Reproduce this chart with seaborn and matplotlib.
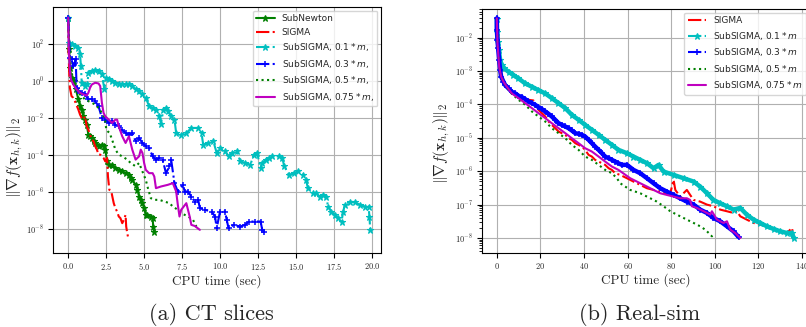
import numpy as np
import pandas as pd
import matplotlib
matplotlib.use("Agg")
import matplotlib.pyplot as plt
import seaborn as sns
from matplotlib.font_manager import FontProperties

# ---------------- (a) CT slices : CPU time (sec) and log10 ||grad|| ----------------
ct_newton_t = [0.00, 0.07, 0.11, 0.22, 0.40, 0.51, 0.67, 0.78, 0.89, 1.00, 1.11, 1.22, 1.33, 1.44,
               1.56, 1.67, 1.78, 1.89, 2.00, 2.22, 2.33, 2.44, 2.56, 2.67, 2.89, 3.11, 3.33, 3.56,
               3.78, 4.00, 4.11, 4.22, 4.44, 4.56, 4.67, 4.78, 4.89, 5.00, 5.11, 5.22, 5.44, 5.56,
               5.60, 5.67]
ct_newton_lg = [3.37, 1.69, 0.70, 0.16, -0.02, -0.47, -1.01, -1.38, -1.56, -1.92, -2.10, -2.37, -2.91,
                -3.00, -3.09, -3.27, -3.36, -3.45, -3.54, -3.45, -3.54, -3.72, -4.35, -4.53, -4.53,
                -4.71, -4.81, -4.90, -4.99, -5.08, -5.26, -5.35, -5.62, -5.89, -6.25, -6.43, -6.61,
                -6.88, -7.24, -7.24, -7.33, -7.42, -7.87, -8.14]

ct_sigma_t = [0.00, 0.02, 0.07, 0.11, 0.22, 0.33, 0.44, 0.67, 0.78, 0.89, 1.00, 1.11, 1.22, 1.33,
              1.44, 1.56, 1.67, 1.78, 1.89, 2.00, 2.11, 2.22, 2.33, 2.44, 2.56, 2.62, 2.71, 2.84,
              2.93, 3.00, 3.11, 3.22, 3.33, 3.44, 3.56, 3.67, 3.78, 3.82, 3.89, 3.96]
ct_sigma_lg = [3.32, 1.69, 0.43, -0.38, -0.83, -0.92, -1.10, -1.56, -1.83, -2.01, -2.10, -1.92, -2.46,
               -2.64, -2.91, -3.18, -3.27, -3.54, -3.72, -3.99, -3.99, -4.08, -4.17, -4.35, -4.17,
               -5.17, -5.89, -5.98, -6.34, -6.61, -6.88, -7.06, -7.33, -7.42, -7.69, -7.51, -7.24,
               -7.87, -8.23, -8.51]

ct_s01_t = [0.00, 0.04, 0.22, 0.44, 0.67, 0.78, 0.84, 0.89, 1.11, 1.27, 1.33, 1.56, 1.78, 2.00,
            2.22, 2.38, 2.51, 2.67, 2.89, 3.11, 3.33, 3.56, 3.78, 4.00, 4.22, 4.44, 4.67, 4.89,
            5.11, 5.33, 5.56, 5.78, 6.00, 6.11, 6.27, 6.44, 6.56, 6.78, 7.00, 7.11, 7.44, 7.78,
            8.11, 8.56, 8.78, 8.89, 9.22, 9.56, 9.78, 10.00, 10.33, 10.56, 10.78, 11.11, 11.33,
            11.67, 12.00, 12.22, 12.44, 12.67, 12.78, 13.00, 13.22, 13.44, 13.89, 14.11, 14.22,
            14.56, 14.89, 15.11, 15.44, 15.67, 15.78, 16.11, 16.33, 16.56, 16.78, 17.00, 17.11,
            17.33, 17.56, 17.78, 18.00, 18.11, 18.22, 18.56, 18.89, 19.22, 19.56, 19.78, 19.84,
            19.89]
ct_s01_lg = [3.37, 2.05, 1.96, 1.87, 1.78, 1.42, 0.79, -0.11, -0.26, -0.20, 0.43, 0.52, 0.56, 0.52,
             0.34, -0.44, 0.16, 0.07, -0.02, -0.11, -0.15, -0.20, -0.20, -0.20, -0.29, -0.47, -0.56,
             -0.74, -0.92, -1.38, -1.47, -1.56, -1.92, -2.31, -1.56, -1.47, -1.65, -1.92, -2.10,
             -2.82, -2.91, -2.82, -2.55, -2.55, -2.82, -3.45, -3.36, -3.27, -3.90, -3.63, -3.81,
             -4.08, -3.90, -3.81, -4.35, -4.44, -4.53, -3.99, -3.90, -4.71, -4.44, -4.26, -4.17,
             -4.08, -4.08, -4.17, -4.62, -5.08, -4.99, -4.90, -5.08, -5.35, -5.80, -6.07, -6.07,
             -6.25, -6.16, -6.25, -6.79, -7.06, -7.24, -7.42, -7.60, -7.06, -6.70, -6.52, -6.57,
             -6.70, -6.79, -6.79, -7.33, -8.05]

ct_s03_t = [0.00, 0.11, 0.22, 0.33, 0.44, 0.49, 0.56, 0.67, 0.89, 1.11, 1.33, 1.56, 1.78, 2.00,
            2.22, 2.44, 2.67, 2.89, 3.11, 3.33, 3.56, 3.78, 4.00, 4.22, 4.44, 4.67, 4.89, 5.11,
            5.33, 5.56, 5.78, 6.00, 6.22, 6.44, 6.67, 6.78, 7.00, 7.22, 7.56, 7.67, 7.89, 8.11,
            8.33, 8.56, 8.67, 9.00, 9.44, 9.67, 9.78, 10.00, 10.33, 10.44, 10.56, 10.89, 11.33,
            11.67, 11.89, 12.33, 12.67, 12.78, 12.89]
ct_s03_lg = [3.41, 1.24, 1.15, 0.79, 0.97, 1.15, -0.38, -0.56, -0.65, -0.74, -1.01, -1.01, -1.10,
             -1.38, -2.01, -2.10, -2.28, -2.19, -2.37, -2.46, -2.64, -2.82, -2.91, -2.82, -3.27,
             -3.09, -3.36, -3.54, -3.63, -4.08, -4.26, -4.17, -4.26, -4.99, -4.62, -4.26, -5.53,
             -5.98, -5.62, -5.98, -5.98, -6.25, -6.52, -6.43, -6.88, -6.97, -7.06, -7.33, -7.96,
             -7.06, -7.06, -7.51, -7.96, -7.78, -7.87, -7.78, -7.60, -7.60, -7.60, -8.05, -8.14]

ct_s05_t = [0.00, 0.11, 0.22, 0.33, 0.56, 0.89, 1.11, 1.33, 1.56, 1.78, 2.00, 2.22, 2.38, 2.44,
            2.51, 2.60, 2.73, 2.89, 3.11, 3.33, 3.56, 3.89, 4.11, 4.44, 4.67, 4.89, 5.11, 5.22,
            5.44, 5.67, 6.00, 6.33, 6.67, 6.89, 7.22, 7.44, 7.67, 7.89, 8.22, 8.33, 8.44, 8.56]
ct_s05_lg = [3.37, 1.15, 0.52, -0.02, -0.56, -0.83, -1.01, -1.10, -1.19, -1.29, -1.47, -1.74, -2.01,
             -2.19, -2.64, -2.73, -2.82, -3.18, -3.72, -3.99, -4.08, -4.26, -4.44, -4.62, -4.44,
             -4.90, -5.35, -5.71, -6.34, -6.43, -6.43, -6.52, -6.61, -6.79, -6.97, -7.15, -7.24,
             -7.33, -7.51, -7.69, -7.87, -7.96]

ct_s075_t = [0.00, 0.04, 0.11, 0.18, 0.33, 0.56, 0.78, 1.00, 1.22, 1.33, 1.44, 1.56, 1.78, 2.00,
             2.11, 2.22, 2.33, 2.44, 2.67, 2.89, 3.11, 3.22, 3.33, 3.56, 3.78, 4.00, 4.22, 4.44,
             4.67, 4.78, 4.89, 5.00, 5.11, 5.33, 5.56, 5.67, 5.78, 6.11, 6.56, 6.89, 7.11, 7.22,
             7.33, 7.44, 7.78, 8.00, 8.11, 8.33, 8.67]
ct_s075_lg = [3.41, 1.69, 0.61, 0.07, -0.20, -0.47, -0.65, -0.74, -0.80, -0.65, -0.38, -0.20, -0.11,
              -0.15, -0.29, -1.19, -1.74, -1.92, -2.10, -2.28, -2.10, -2.10, -2.46, -3.00, -3.36,
              -3.00, -3.72, -4.26, -4.08, -3.72, -3.90, -4.44, -4.81, -4.99, -4.99, -5.17, -5.80,
              -5.71, -5.62, -5.53, -5.98, -6.70, -7.33, -6.97, -6.61, -7.33, -7.78, -7.84, -8.05]

# ---------------- (b) Real-sim ----------------
rs_sigma_t = [0.0, 0.31, 1.07, 1.99, 3.06, 4.59, 6.88, 8.41, 11.5, 14.5, 16.8, 17.6, 19.1, 20.7,
              22.2, 23.7, 25.2, 26.8, 28.3, 29.8, 31.4, 32.9, 34.4, 36.0, 37.5, 39.0, 40.5, 42.1,
              43.6, 45.1, 46.7, 48.2, 49.7, 51.3, 52.8, 54.3, 56.6, 59.7, 62.7, 65.8, 68.9, 71.9,
              76.5, 79.6, 81.1, 81.9, 84.1, 87.2, 88.7, 90.3, 93.3, 96.4, 99.4, 102.5, 105.6,
              108.6, 110.2, 111.7, 114.7, 117.8, 120.9, 123.9, 127.0, 130.0, 133.1, 135.4, 136.2,
              136.9]
rs_sigma_lg = [-1.42, -2.17, -2.87, -3.17, -3.32, -3.49, -3.65, -3.71, -3.78, -3.86, -3.88, -4.01,
               -4.16, -4.26, -4.36, -4.51, -4.61, -4.71, -4.81, -4.86, -4.91, -5.01, -5.06, -5.16,
               -5.21, -5.26, -5.36, -5.51, -5.56, -5.66, -5.71, -5.76, -5.81, -5.91, -5.96, -6.06,
               -6.11, -6.21, -6.31, -6.41, -6.51, -6.56, -6.66, -6.66, -6.26, -6.56, -6.76, -6.56,
               -6.71, -6.86, -6.91, -7.00, -7.05, -7.15, -7.20, -7.25, -7.20, -7.35, -7.45, -7.55,
               -7.60, -7.65, -7.75, -7.80, -7.85, -7.70, -7.95, -8.05]

rs_s01_t = [0.0, 0.15, 0.46, 0.92, 1.53, 2.30, 3.37, 5.36, 7.65, 9.94, 13.0, 16.1, 19.1, 22.2,
            25.2, 28.3, 31.4, 34.4, 37.5, 40.5, 43.6, 46.7, 49.7, 52.8, 55.8, 59.7, 62.7, 65.8,
            68.9, 71.9, 74.2, 76.5, 81.1, 85.7, 90.3, 93.3, 96.4, 99.4, 102.5, 105.6, 108.6,
            111.7, 114.7, 117.8, 120.9, 123.9, 127.0, 130.0, 133.1, 135.4, 136.2]
rs_s01_lg = [-1.44, -1.82, -2.12, -2.37, -2.67, -2.82, -2.92, -3.02, -3.12, -3.22, -3.37, -3.47,
             -3.57, -3.67, -3.81, -3.96, -4.11, -4.31, -4.46, -4.61, -4.76, -4.91, -5.06, -5.21,
             -5.36, -5.46, -5.56, -5.66, -5.76, -5.91, -5.81, -6.01, -6.11, -6.21, -6.31, -6.46,
             -6.66, -6.86, -6.96, -7.05, -7.15, -7.10, -7.30, -7.45, -7.55, -7.65, -7.73, -7.80,
             -7.85, -7.85, -8.00]

rs_s03_t = [0.0, 0.0, 0.31, 0.61, 1.07, 1.53, 1.99, 3.06, 3.82, 5.36, 6.88, 8.41, 9.94, 11.5, 13.0,
            14.5, 16.1, 17.6, 19.1, 20.7, 22.2, 23.7, 25.2, 26.8, 28.3, 29.8, 31.4, 32.9, 34.4,
            36.0, 37.5, 39.0, 40.5, 42.1, 43.6, 45.1, 46.7, 48.2, 49.7, 51.3, 52.8, 54.3, 55.8,
            57.4, 59.7, 62.7, 65.8, 68.9, 71.9, 75.0, 78.0, 81.1, 84.1, 87.2, 90.3, 93.3, 96.4,
            99.4, 102.5, 105.6, 108.6, 110.9]
rs_s03_lg = [-1.42, -1.77, -2.07, -2.32, -2.67, -2.97, -3.17, -3.32, -3.42, -3.52, -3.62, -3.67,
             -3.74, -3.78, -3.84, -3.91, -3.96, -4.01, -4.08, -4.14, -4.21, -4.28, -4.36, -4.46,
             -4.56, -4.61, -4.66, -4.71, -4.78, -4.86, -4.88, -4.91, -4.96, -5.06, -5.16, -5.26,
             -5.36, -5.46, -5.56, -5.61, -5.66, -5.71, -5.76, -5.81, -5.81, -5.96, -6.06, -6.21,
             -6.36, -6.51, -6.61, -6.71, -6.81, -6.91, -7.00, -7.15, -7.25, -7.40, -7.50, -7.65,
             -7.80, -7.97]

rs_s05_t = [0.0, 0.31, 1.07, 1.99, 3.06, 4.59, 6.88, 9.94, 13.0, 16.1, 19.1, 22.2, 25.2, 28.3,
            31.4, 34.4, 37.5, 40.5, 43.6, 46.7, 49.7, 52.8, 55.1, 56.6, 61.2, 65.8, 70.4, 73.4,
            76.5, 79.6, 82.6, 87.2, 90.3, 93.3, 95.6, 97.2, 98.7, 99.4]
rs_s05_lg = [-1.42, -2.17, -2.87, -3.17, -3.32, -3.49, -3.68, -3.86, -4.01, -4.21, -4.36, -4.51,
             -4.71, -4.86, -5.01, -5.21, -5.36, -5.56, -5.66, -5.81, -5.96, -6.06, -6.21, -6.36,
             -6.56, -6.66, -6.81, -6.91, -7.05, -7.20, -7.30, -7.45, -7.55, -7.65, -7.75, -7.85,
             -7.95, -7.90]

rs_s075_t = [0.0, 0.31, 1.07, 1.99, 3.06, 4.59, 6.88, 9.94, 13.0, 16.1, 19.1, 22.2, 25.2, 28.3,
             31.4, 34.4, 37.5, 40.5, 43.6, 46.7, 49.7, 52.8, 55.8, 61.2, 65.8, 68.9, 71.9, 75.0,
             78.0, 81.1, 84.1, 87.2, 88.7, 89.5, 91.8, 94.9, 97.9, 98.7, 101.0, 104.0, 105.6,
             107.1, 109.4, 111.7]
rs_s075_lg = [-1.42, -2.17, -2.87, -3.17, -3.32, -3.47, -3.67, -3.81, -3.96, -4.11, -4.26, -4.41,
              -4.56, -4.71, -4.86, -5.01, -5.16, -5.31, -5.41, -5.56, -5.71, -5.86, -5.96, -6.21,
              -6.36, -6.46, -6.56, -6.66, -6.71, -6.76, -6.81, -6.81, -6.86, -7.05, -7.10, -7.20,
              -7.30, -7.20, -7.45, -7.55, -7.50, -7.75, -7.85, -8.00]

labels_a = ["SubNewton", "SIGMA", "SubSIGMA, $0.1*m$,", "SubSIGMA, $0.3*m$,",
            "SubSIGMA, $0.5*m$,", "SubSIGMA, $0.75*m$,"]
labels_b = ["SIGMA", "SubSIGMA, $0.1*m$", "SubSIGMA, $0.3*m$",
            "SubSIGMA, $0.5*m$", "SubSIGMA, $0.75*m$"]
xticks_a = [0.0, 2.5, 5.0, 7.5, 10.0, 12.5, 15.0, 17.5, 20.0]
xticks_b = [0, 20, 40, 60, 80, 100, 120, 140]
yticks_a = [1e-8, 1e-6, 1e-4, 1e-2, 1e0, 1e2]
yticks_b = [1e-8, 1e-7, 1e-6, 1e-5, 1e-4, 1e-3, 1e-2]
captions = ["(a) CT slices", "(b) Real-sim"]

# classic matplotlib single-letter colours
C_G = (0.0, 0.5, 0.0)
C_R = (1.0, 0.0, 0.0)
C_C = (0.0, 0.75, 0.75)
C_B = (0.0, 0.0, 1.0)
C_M = (0.75, 0.0, 0.75)

# ---------------- style ----------------
sns.set_theme(style="ticks")
plt.rcParams["font.family"] = ["cmr10", "DejaVu Sans"]
plt.rcParams["mathtext.fontset"] = "cm"
plt.rcParams["axes.formatter.use_mathtext"] = True
plt.rcParams["axes.edgecolor"] = "black"
plt.rcParams["axes.linewidth"] = 0.8

fig = plt.figure(figsize=(8.06, 3.27), dpi=100)
ax_a = fig.add_axes([53 / 806, 1 - 253 / 327, 328 / 806, 246 / 327])
ax_b = fig.add_axes([482 / 806, 1 - 253 / 327, 328 / 806, 244 / 327])

STYLES = {
    "newton": dict(color=C_G, linestyle="-", marker="*", markersize=4.5, markeredgewidth=0.8),
    "sigma": dict(color=C_R, linestyle="-.", marker=None),
    "s01": dict(color=C_C, linestyle="-.", marker="*", markersize=5, markeredgewidth=0.8),
    "s03": dict(color=C_B, linestyle="-.", marker="+", markersize=5, markeredgewidth=1.1),
    "s05": dict(color=C_G, linestyle=":", marker=None),
    "s075": dict(color=C_M, linestyle="-", marker=None),
}


def draw(ax, t, lg, key, label, band=False):
    st = dict(STYLES[key])
    df = pd.DataFrame({"t": t, "g": np.power(10.0, np.asarray(lg))})
    if band:
        # dense marker band seen in the reference (drawn from the same data)
        sns.lineplot(data=df, x="t", y="g", ax=ax, sort=False, estimator=None,
                     color=st["color"], linewidth=3.2, legend=False)
    if st.get("marker") is None:
        st.pop("marker")
    else:
        st["markeredgecolor"] = st["color"]
    sns.lineplot(data=df, x="t", y="g", ax=ax, sort=False, estimator=None,
                 linewidth=1.5, label=label, legend=False, **st)


for ax in (ax_a, ax_b):
    ax.set_yscale("log")

draw(ax_a, ct_newton_t, ct_newton_lg, "newton", labels_a[0])
draw(ax_a, ct_sigma_t, ct_sigma_lg, "sigma", labels_a[1])
draw(ax_a, ct_s01_t, ct_s01_lg, "s01", labels_a[2])
draw(ax_a, ct_s03_t, ct_s03_lg, "s03", labels_a[3])
draw(ax_a, ct_s05_t, ct_s05_lg, "s05", labels_a[4])
draw(ax_a, ct_s075_t, ct_s075_lg, "s075", labels_a[5])

draw(ax_b, rs_sigma_t, rs_sigma_lg, "sigma", labels_b[0])
draw(ax_b, rs_s01_t, rs_s01_lg, "s01", labels_b[1], band=True)
draw(ax_b, rs_s03_t, rs_s03_lg, "s03", labels_b[2], band=True)
draw(ax_b, rs_s05_t, rs_s05_lg, "s05", labels_b[3])
draw(ax_b, rs_s075_t, rs_s075_lg, "s075", labels_b[4])

ax_a.set_xlim(-1.0, 20.6)
ax_a.set_ylim(10 ** -9.3, 10 ** 3.98)
ax_a.set_xticks(xticks_a)
ax_a.set_yticks(yticks_a)
ax_b.set_xlim(-6.8, 143.7)
ax_b.set_ylim(10 ** -8.45, 10 ** -1.14)
ax_b.set_xticks(xticks_b)
ax_b.set_yticks(yticks_b)

ylab = r"$\|\nabla f(\mathbf{x}_{h,k})\|_2$"
leg_prop = FontProperties(family="DejaVu Sans", size=6.5, math_fontfamily="dejavusans")
for ax, ylab_x, ylab_y in ((ax_a, -0.085, 0.39), (ax_b, -0.09, 0.45)):
    ax.grid(True, which="major", color="#b0b0b0", linewidth=0.8)
    ax.tick_params(axis="both", which="major", labelsize=6, length=3.5, width=0.8,
                   direction="out", color="black")
    ax.tick_params(axis="x", which="major", pad=2)
    ax.tick_params(axis="y", which="major", pad=3)
    ax.tick_params(axis="y", which="minor", length=2, width=0.6, color="black", left=True)
    for sp in ax.spines.values():
        sp.set_visible(True)
        sp.set_color("black")
        sp.set_linewidth(0.8)
    ax.set_xlabel("CPU time (sec)", fontsize=9.5, labelpad=2)
    ax.set_ylabel(ylab, fontsize=11)
    ax.yaxis.set_label_coords(ylab_x, ylab_y)
    ax.legend(loc="upper right", prop=leg_prop, borderaxespad=0.4, handlelength=2.0,
              labelspacing=0.5, framealpha=0.8, edgecolor="#cccccc")

fig.text(211 / 806, 1 - 315 / 327, captions[0], ha="center", va="center", fontsize=16,
         family="cmr10")
fig.text(640 / 806, 1 - 315 / 327, captions[1], ha="center", va="center", fontsize=16,
         family="cmr10")

fig.savefig("out.png", dpi=100)
